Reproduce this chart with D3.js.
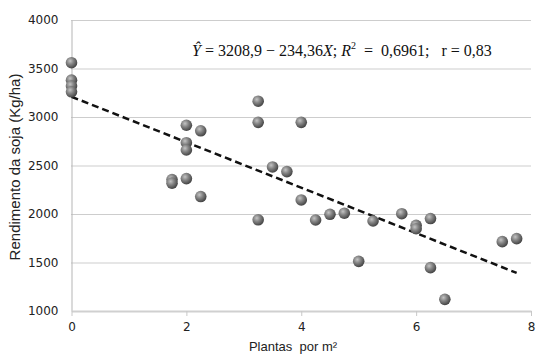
<!DOCTYPE html>
<html>
<head>
<meta charset="utf-8">
<script src="https://cdn.jsdelivr.net/npm/d3@7"></script>
<style>
body{margin:0;background:#fff;}
svg{display:block;}
text{white-space:pre;}
</style>
</head>
<body>
<svg id="chart" width="556" height="358"></svg>
<script>
const plantsX = [0,0,0,0,1.75,1.75,2,2,2,2,2.25,2.25,3.25,3.25,3.25,3.5,3.75,4,4,4.25,4.5,4.75,5,5.25,5.75,6,6,6.25,6.25,6.5,7.5,7.75];
const yieldY = [3560,3380,3320,3260,2355,2318,2915,2735,2660,2365,2858,2180,3163,2945,1940,2485,2437,2945,2145,1938,1997,2008,1512,1928,2003,1883,1848,1953,1447,1120,1715,1746];
const xTicks = [0,2,4,6,8];
const yTicks = [1000,1500,2000,2500,3000,3500,4000];
const intercept = 3208.9, slope = -234.36;
const lineX = [0, 7.75];

const svg = d3.select("#chart");
const x = d3.scaleLinear().domain([0,8]).range([71.5,531]);
const y = d3.scaleLinear().domain([1000,4000]).range([311,20]);

const defs = svg.append("defs");
const grad = defs.append("radialGradient").attr("id","ball").attr("cx","38%").attr("cy","35%").attr("r","65%");
grad.append("stop").attr("offset","0%").attr("stop-color","#c4c4c4");
grad.append("stop").attr("offset","45%").attr("stop-color","#858585");
grad.append("stop").attr("offset","100%").attr("stop-color","#454545");

// gridlines
svg.append("g").selectAll("line").data(yTicks.filter(d=>d>1000)).join("line")
  .attr("x1",x(0)).attr("x2",x(8)).attr("y1",d=>y(d)+0.5).attr("y2",d=>y(d)+0.5)
  .attr("stroke","#9a9a9a").attr("stroke-width",1).attr("stroke-dasharray","1,1");

// y axis
const yAxis = svg.append("g").attr("transform",`translate(${x(0)},0)`)
  .call(d3.axisLeft(y).tickValues(yTicks).tickFormat(d3.format("d")).tickSize(0).tickPadding(13));
yAxis.select(".domain").attr("stroke","#b5b5b5");
yAxis.selectAll("text").attr("font-family","DejaVu Sans, sans-serif").attr("font-size","12px").attr("fill","#222");

// x axis
const xAxis = svg.append("g").attr("transform",`translate(0,${y(1000)})`)
  .call(d3.axisBottom(x).tickValues(xTicks).tickFormat(d3.format("d")).tickSize(5).tickPadding(6).tickSizeOuter(0));
xAxis.select(".domain").attr("stroke","#d0d0d0").attr("stroke-width",2);
xAxis.selectAll(".tick line").attr("stroke","#c8c8c8");
xAxis.selectAll("text").attr("font-family","DejaVu Sans, sans-serif").attr("font-size","12px").attr("fill","#222");

// regression line
svg.append("line")
  .attr("x1",x(lineX[0])).attr("y1",y(intercept+slope*lineX[0]))
  .attr("x2",x(lineX[1])).attr("y2",y(intercept+slope*lineX[1]))
  .attr("stroke","#111").attr("stroke-width",2.5).attr("stroke-dasharray","7,4");

// points
svg.append("g").selectAll("circle").data(plantsX.map((d,i)=>[d,yieldY[i]])).join("circle")
  .attr("cx",d=>x(d[0])).attr("cy",d=>y(d[1])).attr("r",5.8)
  .attr("fill","url(#ball)");

// axis titles
svg.append("text").attr("transform","translate(14,167) rotate(-90)")
  .attr("text-anchor","middle").attr("dominant-baseline","central")
  .attr("font-family","Liberation Sans, Arial, sans-serif").attr("font-size","15px").attr("fill","#222")
  .text("Rendimento da soja (Kg/ha)");
svg.append("text").attr("x",293).attr("y",351)
  .attr("text-anchor","middle")
  .attr("font-family","Liberation Sans, Arial, sans-serif").attr("font-size","13px").attr("fill","#222")
  .text("Plantas  por m²");

// equation
const eq = svg.append("text").attr("x",192).attr("y",56)
  .attr("font-family","Liberation Serif, Times New Roman, serif").attr("font-size","16px").attr("fill","#111");
eq.append("tspan").attr("font-style","italic").text("Ŷ");
eq.append("tspan").text(" = 3208,9 − 234,36");
eq.append("tspan").attr("font-style","italic").text("X");
eq.append("tspan").text("; ");
eq.append("tspan").attr("font-style","italic").text("R");
eq.append("tspan").attr("font-size","10px").attr("dy",-7).text("2");
eq.append("tspan").attr("dy",7).text("  =  0,6961;   r = 0,83");
</script>
</body>
</html>
